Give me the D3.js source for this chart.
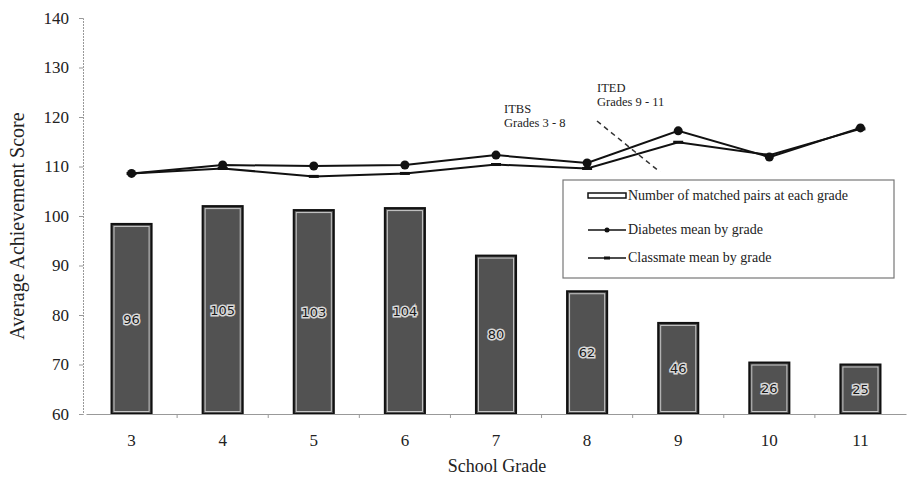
<!DOCTYPE html>
<html>
<head>
<meta charset="utf-8">
<script src="https://cdn.jsdelivr.net/npm/d3@7"></script>
<style>
  body { margin: 0; background: #fff; }
  svg { display: block; }
  text { font-family: "Liberation Serif", "DejaVu Serif", serif; fill: #222; }
</style>
</head>
<body>
<div id="chart"></div>
<script>
const grades = ['3', '4', '5', '6', '7', '8', '9', '10', '11'];
const pairCounts = [96, 105, 103, 104, 80, 62, 46, 26, 25];
const diabetesMean = [108.6, 110.3, 110.1, 110.3, 112.3, 110.7, 117.2, 111.9, 117.8];
const classmateMean = [108.6, 109.6, 108.0, 108.6, 110.4, 109.6, 114.9, 112.3, 117.6];
const yTicks = [60, 70, 80, 90, 100, 110, 120, 130, 140];

const width = 908, height = 479;
const margin = { top: 18, right: 2, bottom: 65, left: 86 };

const svg = d3.select('#chart').append('svg')
  .attr('width', width)
  .attr('height', height);

const x = d3.scaleBand()
  .domain(grades)
  .range([margin.left, width - margin.right])
  .paddingInner(0.56)
  .paddingOuter(0.28);

const y = d3.scaleLinear()
  .domain([60, 140])
  .range([height - margin.bottom, margin.top]);

// bars use a hidden secondary axis: 0..200 pairs
const yCount = d3.scaleLinear()
  .domain([0, 200])
  .range([height - margin.bottom, margin.top]);

const step = x.step();
const xc = g => x(g) + x.bandwidth() / 2;

// Bars
const bars = svg.append('g')
  .selectAll('g')
  .data(grades)
  .enter()
  .append('g');

bars.append('rect')
  .attr('x', g => x(g))
  .attr('y', (g, i) => yCount(pairCounts[i]))
  .attr('width', x.bandwidth())
  .attr('height', (g, i) => yCount(0) - yCount(pairCounts[i]))
  .attr('fill', '#525252')
  .attr('stroke', '#111')
  .attr('stroke-width', 2);

bars.append('rect')
  .attr('x', g => x(g) + 2.5)
  .attr('y', (g, i) => yCount(pairCounts[i]) + 2.5)
  .attr('width', x.bandwidth() - 5)
  .attr('height', (g, i) => yCount(0) - yCount(pairCounts[i]) - 5)
  .attr('fill', 'none')
  .attr('stroke', '#c8c8c8')
  .attr('stroke-width', 1);

bars.append('text')
  .attr('x', g => xc(g))
  .attr('y', (g, i) => (yCount(pairCounts[i]) + yCount(0)) / 2)
  .attr('dy', '0.35em')
  .attr('text-anchor', 'middle')
  .style('font-family', '"DejaVu Sans", sans-serif')
  .style('font-size', '13px')
  .style('fill', '#1a1a1a')
  .style('stroke', '#d8d8d8')
  .style('stroke-width', 3)
  .style('paint-order', 'stroke')
  .text((g, i) => pairCounts[i]);

// Axes
const yAxis = svg.append('g')
  .attr('transform', `translate(${margin.left - 3},0)`)
  .call(d3.axisLeft(y).tickValues(yTicks).tickSize(4).tickPadding(10));
yAxis.select('.domain').attr('stroke', '#999').attr('stroke-dasharray', '2,1');
yAxis.selectAll('.tick line').attr('stroke', '#999');
yAxis.selectAll('.tick text')
  .style('font-size', '17px')
  .style('font-family', '"Liberation Serif", serif')
  .attr('fill', '#222');

const xAxis = svg.append('g')
  .attr('transform', `translate(0,${y(60)})`)
  .call(d3.axisBottom(x).tickSize(0).tickPadding(20));
xAxis.select('.domain').attr('stroke', '#999');
xAxis.selectAll('.tick text')
  .style('font-size', '17px')
  .attr('fill', '#222');

// small ticks between categories
svg.append('g')
  .selectAll('line')
  .data(grades.slice(1))
  .enter()
  .append('line')
  .attr('x1', g => x(g) - (step - x.bandwidth()) / 2)
  .attr('x2', g => x(g) - (step - x.bandwidth()) / 2)
  .attr('y1', y(60))
  .attr('y2', y(60) + 4)
  .attr('stroke', '#999');

// Axis titles
svg.append('text')
  .attr('transform', `translate(24,${(y(60) + y(140)) / 2 + 10}) rotate(-90)`)
  .attr('text-anchor', 'middle')
  .style('font-size', '20px')
  .text('Average Achievement Score');

svg.append('text')
  .attr('x', 497)
  .attr('y', 472)
  .attr('text-anchor', 'middle')
  .style('font-size', '18px')
  .text('School Grade');

// Lines
const line = vals => d3.line()
  .x((g, i) => xc(g))
  .y((g, i) => y(vals[i]))(grades);

svg.append('path')
  .attr('d', line(classmateMean))
  .attr('fill', 'none')
  .attr('stroke', '#111')
  .attr('stroke-width', 2);

svg.append('path')
  .attr('d', line(diabetesMean))
  .attr('fill', 'none')
  .attr('stroke', '#111')
  .attr('stroke-width', 2);

svg.append('g')
  .selectAll('rect')
  .data(grades)
  .enter()
  .append('rect')
  .attr('x', g => xc(g) - 5)
  .attr('y', (g, i) => y(classmateMean[i]) - 1.5)
  .attr('width', 10)
  .attr('height', 3)
  .attr('fill', '#111');

svg.append('g')
  .selectAll('circle')
  .data(grades)
  .enter()
  .append('circle')
  .attr('cx', g => xc(g))
  .attr('cy', (g, i) => y(diabetesMean[i]))
  .attr('r', 4.5)
  .attr('fill', '#111');

// Test divider and labels
svg.append('line')
  .attr('x1', 597).attr('y1', 121)
  .attr('x2', 660).attr('y2', 172)
  .attr('stroke', '#333')
  .attr('stroke-width', 1.5)
  .attr('stroke-dasharray', '5,4');

const notes = [
  { x: 504, y: 113, text: 'ITBS' },
  { x: 504, y: 127, text: 'Grades 3 - 8' },
  { x: 597, y: 92, text: 'ITED' },
  { x: 597, y: 106, text: 'Grades 9 - 11' }
];
svg.append('g')
  .selectAll('text')
  .data(notes)
  .enter()
  .append('text')
  .attr('x', d => d.x)
  .attr('y', d => d.y)
  .style('font-size', '12.5px')
  .text(d => d.text);

// Legend
const legend = svg.append('g').attr('transform', 'translate(563,180)');
legend.append('rect')
  .attr('width', 331)
  .attr('height', 98)
  .attr('fill', '#fff')
  .attr('stroke', '#777')
  .attr('stroke-width', 1.2);

legend.append('rect')
  .attr('x', 25).attr('y', 13)
  .attr('width', 38).attr('height', 5)
  .attr('fill', '#fff')
  .attr('stroke', '#111')
  .attr('stroke-width', 1.5);

legend.append('line')
  .attr('x1', 25).attr('x2', 63).attr('y1', 50).attr('y2', 50)
  .attr('stroke', '#111').attr('stroke-width', 1.5);
legend.append('circle')
  .attr('cx', 44).attr('cy', 50).attr('r', 2.5).attr('fill', '#111');

legend.append('line')
  .attr('x1', 25).attr('x2', 63).attr('y1', 78).attr('y2', 78)
  .attr('stroke', '#111').attr('stroke-width', 1.5);
legend.append('rect')
  .attr('x', 41).attr('y', 76.5).attr('width', 6).attr('height', 3).attr('fill', '#111');

const legendLabels = ['Number of matched pairs at each grade', 'Diabetes mean by grade', 'Classmate mean by grade'];
legend.selectAll('text.lbl')
  .data(legendLabels)
  .enter()
  .append('text')
  .attr('class', 'lbl')
  .attr('x', 65)
  .attr('y', (d, i) => [20, 54, 82][i])
  .style('font-size', '14px')
  .text(d => d);
</script>
</body>
</html>
